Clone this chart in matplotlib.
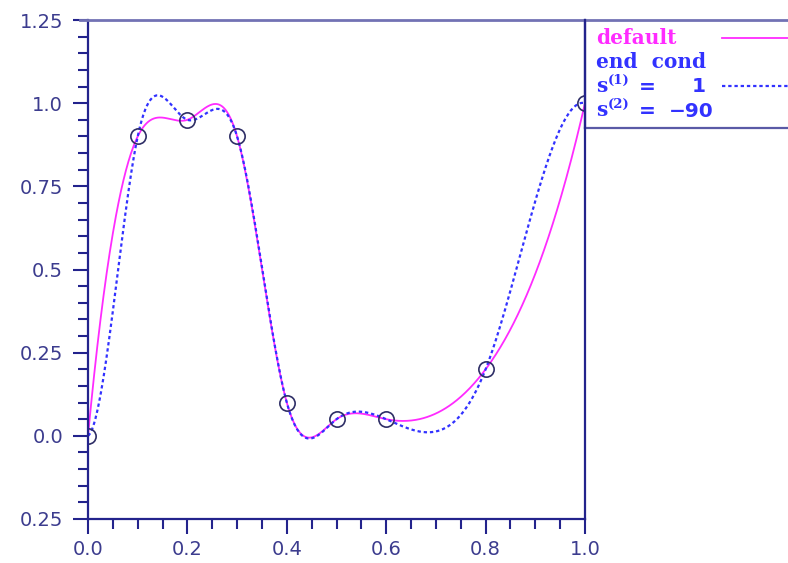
import numpy as np
import matplotlib
matplotlib.use('Agg')
import matplotlib.pyplot as plt
from matplotlib.lines import Line2D

# knots of the interpolant
x_data = [0.0, 0.1, 0.2, 0.3, 0.4, 0.5, 0.6, 0.8, 1.0]
y_data = [0.0, 0.9, 0.95, 0.9, 0.1, 0.05, 0.05, 0.2, 1.0]

# end conditions of the second spline: s'(0) and s''(1)
left_slope = 1
right_curv = -90

x_ticks = [0.0, 0.2, 0.4, 0.6, 0.8, 1.0]
x_tick_labels = ['0.0', '0.2', '0.4', '0.6', '0.8', '1.0']
y_ticks = [-0.25, 0.0, 0.25, 0.5, 0.75, 1.0, 1.25]
y_tick_labels = ['0.25', '0.0', '0.25', '0.5', '0.75', '1.0', '1.25']

NAVY = '#23238c'
LABEL = '#3c3c8e'
MAGENTA = '#ff2bff'
BLUE = '#3232ff'


def spline_moments(x, y, left, right):
    """Second derivatives at the knots; left/right are ('d1'|'d2', value)."""
    x = np.asarray(x, float)
    y = np.asarray(y, float)
    n = len(x)
    h = np.diff(x)
    A = np.zeros((n, n))
    b = np.zeros(n)
    for i in range(1, n - 1):
        A[i, i - 1] = h[i - 1]
        A[i, i] = 2 * (h[i - 1] + h[i])
        A[i, i + 1] = h[i]
        b[i] = 6 * ((y[i + 1] - y[i]) / h[i] - (y[i] - y[i - 1]) / h[i - 1])
    kind, val = left
    if kind == 'd1':
        A[0, 0], A[0, 1] = 2 * h[0], h[0]
        b[0] = 6 * ((y[1] - y[0]) / h[0] - val)
    else:
        A[0, 0], b[0] = 1, val
    kind, val = right
    if kind == 'd1':
        A[-1, -2], A[-1, -1] = h[-1], 2 * h[-1]
        b[-1] = 6 * (val - (y[-1] - y[-2]) / h[-1])
    else:
        A[-1, -1], b[-1] = 1, val
    return np.linalg.solve(A, b)


def spline_eval(x, y, M, xs):
    x = np.asarray(x, float)
    y = np.asarray(y, float)
    i = np.clip(np.searchsorted(x, xs, side='right') - 1, 0, len(x) - 2)
    h = x[i + 1] - x[i]
    a = x[i + 1] - xs
    c = xs - x[i]
    return (M[i] * a ** 3 / (6 * h) + M[i + 1] * c ** 3 / (6 * h)
            + (y[i] / h - M[i] * h / 6) * a + (y[i + 1] / h - M[i + 1] * h / 6) * c)


def end_slope(x, y, at):
    # slope of the cubic through the four end points
    p = np.polyder(np.polyfit(x, y, 3))
    return np.polyval(p, at)


s0 = end_slope(x_data[:4], y_data[:4], x_data[0])
s1 = end_slope(x_data[-4:], y_data[-4:], x_data[-1])
M_default = spline_moments(x_data, y_data, ('d1', s0), ('d1', s1))
M_cond = spline_moments(x_data, y_data, ('d1', left_slope), ('d2', right_curv))

xs = np.linspace(x_data[0], x_data[-1], 800)
y_default = spline_eval(x_data, y_data, M_default, xs)
y_cond = spline_eval(x_data, y_data, M_cond, xs)

W, H = 788, 563
fig = plt.figure(figsize=(W / 100, H / 100), dpi=100)
ax = fig.add_axes([88 / W, 1 - 519 / H, (585 - 88) / W, (519 - 20) / H])

ax.plot(xs, y_default, color=MAGENTA, lw=1.3)
ax.plot(xs, y_cond, color=BLUE, lw=1.6, linestyle=(0, (1.5, 1.3)))
knots, = ax.plot(x_data, y_data, 'o', ms=11, mfc='none', mec='#2e2e66', mew=1.2)
knots.set_clip_path(ax.patch)

ax.set_xlim(0, 1)
ax.set_ylim(-0.25, 1.25)
ax.set_xticks(x_ticks)
ax.set_xticklabels(x_tick_labels)
ax.set_yticks(y_ticks)
ax.set_yticklabels(y_tick_labels)
ax.set_xticks(np.arange(0, 1.0001, 0.05), minor=True)
ax.set_yticks(np.arange(-0.25, 1.2501, 0.05), minor=True)

ax.tick_params(which='major', direction='out', length=11, width=1.5, color=NAVY,
               labelcolor=LABEL, labelsize=14)
ax.tick_params(which='minor', direction='out', length=7.5, width=1.5, color=NAVY)
ax.tick_params(axis='y', which='major', pad=7)
ax.tick_params(axis='x', which='major', pad=4)

for side in ['left', 'bottom', 'right']:
    ax.spines[side].set_color(NAVY)
    ax.spines[side].set_linewidth(1.6)
ax.spines['top'].set_visible(False)

# frame line along the top and the box holding the key
fig.add_artist(Line2D([80 / W, 1], [1 - 20 / H, 1 - 20 / H], color='#7272b4', lw=2))
fig.add_artist(Line2D([585 / W, 1], [1 - 128 / H, 1 - 128 / H], color='#5a5aa6', lw=1.6))
fig.add_artist(Line2D([585 / W, 585 / W], [1 - 128 / H, 1 - 20 / H], color=NAVY, lw=1.6))

serif = dict(family='DejaVu Serif', fontweight='bold', fontsize=14.5, va='center')
sans = dict(family='DejaVu Sans', fontweight='bold', fontsize=14.5, va='center', color=BLUE)
fig.text(596 / W, 1 - 38 / H, 'default', color=MAGENTA, **serif)
fig.text(596 / W, 1 - 62 / H, 'end  cond', color=BLUE, **serif)
fig.text(596 / W, 1 - 86 / H, 's', color=BLUE, **serif)
fig.text(608 / W, 1 - 80 / H, '(1)', color=BLUE, family='DejaVu Serif',
         fontweight='bold', fontsize=9.5, va='center')
fig.text(639 / W, 1 - 87 / H, '=', **sans)
fig.text(692 / W, 1 - 87 / H, '1', **sans)
fig.text(596 / W, 1 - 110 / H, 's', color=BLUE, **serif)
fig.text(608 / W, 1 - 104 / H, '(2)', color=BLUE, family='DejaVu Serif',
         fontweight='bold', fontsize=9.5, va='center')
fig.text(639 / W, 1 - 111 / H, '=', **sans)
fig.text(669 / W, 1 - 111 / H, '\u221290', **sans)

fig.add_artist(Line2D([722 / W, 1], [1 - 38 / H, 1 - 38 / H], color=MAGENTA, lw=1.3))
fig.add_artist(Line2D([722 / W, 1], [1 - 86 / H, 1 - 86 / H], color=BLUE, lw=1.6,
                      linestyle=(0, (1.5, 1.3))))

fig.savefig('out.png', dpi=100)
